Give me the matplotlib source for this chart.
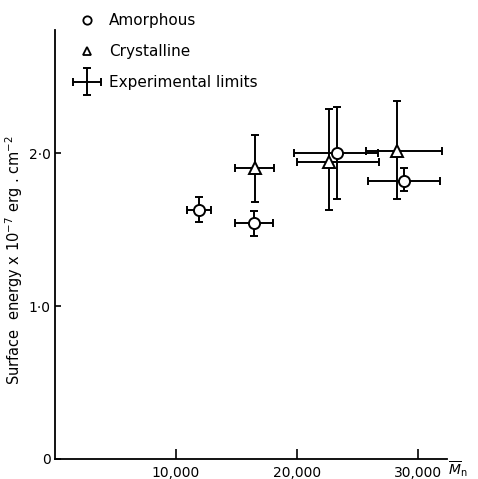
import matplotlib
matplotlib.use("Agg")
import matplotlib.pyplot as plt
import numpy as np
from matplotlib.legend_handler import HandlerErrorbar
from matplotlib.container import ErrorbarContainer
from matplotlib.lines import Line2D

# Amorphous samples
am_x = [11900, 16450, 23330, 28840]
am_y = [1.63, 1.54, 2.00, 1.82]
am_xerr_lo = [1000, 1600, 3600, 2950]
am_xerr_hi = [1000, 1600, 3400, 2950]
am_yerr_lo = [0.08, 0.08, 0.30, 0.07]
am_yerr_hi = [0.08, 0.08, 0.30, 0.08]

# Crystalline samples
cr_x = [16500, 22670, 28240]
cr_y = [1.90, 1.94, 2.01]
cr_xerr_lo = [1600, 2640, 2540]
cr_xerr_hi = [1600, 4100, 3770]
cr_yerr_lo = [0.22, 0.31, 0.31]
cr_yerr_hi = [0.22, 0.35, 0.33]

x_ticks = [10000, 20000, 30000]
x_ticklabels = ["10,000", "20,000", "30,000"]
y_ticks = [0, 1.0, 2.0]
y_ticklabels = ["0", "1·0", "2·0"]

plt.rcParams['font.family'] = ['DejaVu Sans']
fig = plt.figure(figsize=(4.78, 4.79), dpi=100)
ax = fig.add_axes([55/478, 20/479, 392/478, 429/479])

ekw = dict(fmt='none', ecolor='black', elinewidth=1.4, capsize=3, capthick=1.4, zorder=2)
ax.errorbar(am_x, am_y, xerr=[am_xerr_lo, am_xerr_hi], yerr=[am_yerr_lo, am_yerr_hi], **ekw)
ax.errorbar(cr_x, cr_y, xerr=[cr_xerr_lo, cr_xerr_hi], yerr=[cr_yerr_lo, cr_yerr_hi], **ekw)
ax.plot(am_x, am_y, 'o', ms=8, mfc='white', mec='black', mew=1.4, ls='none', zorder=3)
ax.plot(cr_x, cr_y, '^', ms=8, mfc='white', mec='black', mew=1.4, ls='none', zorder=3)

ax.set_xlim(0, 32400)
ax.set_ylim(0, 2.804)
for s in ['top', 'right']:
    ax.spines[s].set_visible(False)
for s in ['left', 'bottom']:
    ax.spines[s].set_linewidth(1.3)
ax.set_xticks(x_ticks)
ax.set_xticklabels(x_ticklabels)
ax.set_yticks(y_ticks)
ax.set_yticklabels(y_ticklabels)
ax.tick_params(axis='x', direction='in', length=7, width=1.2, pad=5, labelsize=10)
ax.tick_params(axis='y', direction='in', length=4, width=1.2, pad=3, labelsize=10)

# legend
h_am = Line2D([], [], marker='o', ms=6, mfc='white', mec='black', mew=1.3, ls='none')
h_cr = Line2D([], [], marker='^', ms=6, mfc='white', mec='black', mew=1.3, ls='none')
h_err = ax.errorbar([np.nan], [np.nan], xerr=[1], yerr=[1], fmt='none', ecolor='black',
                    elinewidth=1.4, capsize=3, capthick=1.4)
leg = ax.legend([h_am, h_cr, h_err], ["Amorphous", "Crystalline", "Experimental limits"],
                loc='upper left', bbox_to_anchor=(73/478, 1 - 13/479),
                bbox_transform=fig.transFigure, frameon=False, fontsize=11,
                borderpad=0, borderaxespad=0, handlelength=1.8, handletextpad=0.55,
                labelspacing=1.05,
                handler_map={ErrorbarContainer: HandlerErrorbar(xerr_size=0.9)})
leg.set_clip_on(False)

fig.text(14/478, 1 - 260/479, "Surface  energy x 10$^{-7}$ erg . cm$^{-2}$", rotation=90,
         ha='center', va='center', fontsize=10.5)
fig.text(448/478, 1 - 469/479, r"$\overline{M}_{\rm n}$", ha='left', va='center', fontsize=10)

fig.savefig("out.png", dpi=100)
